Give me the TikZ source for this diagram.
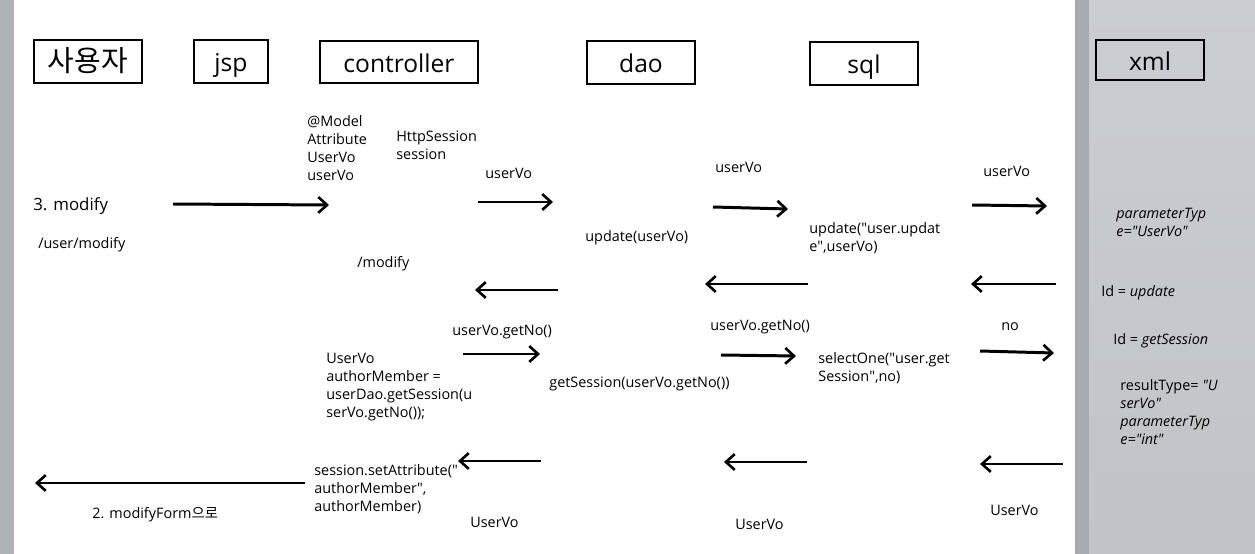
\documentclass[tikz,border=0pt]{standalone}
\usepackage{fontspec}
\setmainfont{Open Sans}
\newfontfamily\krfont{Noto Sans CJK KR}
\newcommand\dq{\textquotedbl}
\definecolor{pagegray}{HTML}{AEB1B5}
\definecolor{edgegray}{HTML}{A8ABAE}
\definecolor{sidetop}{HTML}{CACDD1}
\definecolor{sidebot}{HTML}{C1C3C7}
\usetikzlibrary{arrows.meta,positioning}

\begin{document}
\begin{tikzpicture}[x=0.02cm, y=-0.02cm,
  headbox/.style={draw, line width=0.6pt, inner sep=0pt, text height=12pt, text depth=0.6pt, font=\fontsize{14}{16}\selectfont},
  lbl/.style={anchor=base west, align=left, inner sep=0pt, font=\fontsize{8.2}{10.2}\selectfont},
  biglbl/.style={lbl, font=\fontsize{9.6}{11}\selectfont},
  flow/.style={line width=1.7pt, -{Straight Barb[length=5pt,width=9pt,line width=1.5pt]}}]
  \useasboundingbox (0,0) rectangle (1255,554);

  % Page and side panels
  \fill[white] (0,0) rectangle (1255,554);
  \fill[pagegray] (0,0) rectangle (14,554);
  \fill[edgegray] (1075,0) rectangle (1089,554);
  \shade[top color=sidetop, bottom color=sidebot] (1089,0) rectangle (1255,554);

  % Header boxes
  \node[headbox, minimum width=2.16cm, minimum height=0.86cm] (user) at (88,61.5) {\krfont\fontsize{16.5}{18}\selectfont 사용자};
  \node[headbox, minimum width=1.48cm, minimum height=0.86cm] (jsp) at (231,61.5) {jsp};
  \node[headbox, minimum width=3.16cm, minimum height=0.84cm] (ctrl) at (399,62) {controller};
  \node[headbox, minimum width=2.16cm, minimum height=0.86cm] (dao) at (641,62.5) {dao};
  \node[headbox, minimum width=2.16cm, minimum height=0.86cm] (sql) at (864,63.5) {sql};
  \node[headbox, minimum width=2.16cm, minimum height=0.80cm] (xml) at (1150,60) {xml};

  % Request labels (multi-line labels sit on their last baseline)
  \node[biglbl] (modify) at (33,211) {3. modify};
  \node[lbl] (usermodify) at (38,248) {/user/modify};
  \node[lbl] (model) at (307,180) {@Model\\Attribute\\UserVo\\userVo};
  \node[lbl] (http) at (396,159) {HttpSession\\session};
  \node[lbl] (ctrlmodify) at (357,267) {/modify};
  \node[lbl] (uvone) at (485,178) {userVo};
  \node[lbl] (uvtwo) at (715,173) {userVo};
  \node[lbl] (uvthree) at (983,176) {userVo};
  \node[lbl] (daoupdate) at (585,241) {update(userVo)};
  \node[lbl] (sqlupdate) at (809,251) {update(\dq user.updat\\e\dq,userVo)};

  % Session labels
  \node[lbl] (getnoone) at (452,335) {userVo.getNo()};
  \node[lbl] (getnotwo) at (710,330) {userVo.getNo()};
  \node[lbl] (no) at (1001,330) {no};
  \node[lbl] (author) at (326,417) {UserVo\\authorMember =\\userDao.getSession(u\\serVo.getNo());};
  \node[lbl] (daosession) at (549,387) {getSession(userVo.getNo())};
  \node[lbl] (select) at (818,381) {selectOne(\dq user.get\\Session\dq,no)};
  \node[lbl] (setattr) at (314,511) {session.setAttribute(\dq\\authorMember\dq,\\authorMember)};
  \node[lbl] (form) at (92,518) {2. modifyForm{\krfont 으로}};
  \node[lbl] (retone) at (470,527) {UserVo};
  \node[lbl] (rettwo) at (735,529) {UserVo};
  \node[lbl] (retthree) at (990,515) {UserVo};

  % Mapper labels
  \node[lbl] (ptype) at (1116,236) {\itshape parameterTyp\\\itshape e=\dq UserVo\dq};
  \node[lbl] (idupdate) at (1101,296) {Id = \textit{update}};
  \node[lbl] (idsession) at (1113,344) {Id = \textit{getSession}};
  \node[lbl] (rtype) at (1120,444) {resultType= \textit{\dq U}\\\itshape serVo\dq\\\itshape parameterTyp\\\itshape e=\dq int\dq};

  % Arrow ends
  \coordinate (a1) at (173,204);  \coordinate (b1) at (329,205);
  \coordinate (a2) at (478,202);  \coordinate (b2) at (553,202);
  \coordinate (a3) at (713,207);  \coordinate (b3) at (788,209);
  \coordinate (a4) at (972,205);  \coordinate (b4) at (1047,206);
  \coordinate (c1) at (558,290);  \coordinate (d1) at (475,290);
  \coordinate (c2) at (808,284);  \coordinate (d2) at (705,284);
  \coordinate (c3) at (1056,284); \coordinate (d3) at (971,284);
  \coordinate (e1) at (463,354);  \coordinate (f1) at (540,354);
  \coordinate (e2) at (721,355);  \coordinate (f2) at (796,356);
  \coordinate (e3) at (980,351);  \coordinate (f3) at (1054,353);
  \coordinate (g1) at (541,461);  \coordinate (h1) at (458,461);
  \coordinate (g2) at (807,462);  \coordinate (h2) at (724,462);
  \coordinate (g3) at (1063,464); \coordinate (h3) at (980,464);
  \coordinate (g4) at (305,483);  \coordinate (h4) at (35,483);

  % Arrows
  \foreach \s/\t in {a1/b1,a2/b2,a3/b3,a4/b4,c1/d1,c2/d2,c3/d3,e1/f1,e2/f2,e3/f3,g1/h1,g2/h2,g3/h3,g4/h4}
    \draw[flow] (\s) -- (\t);
\end{tikzpicture}
\end{document}
